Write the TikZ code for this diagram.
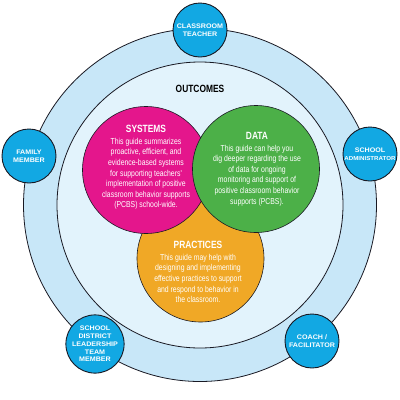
\documentclass[tikz,border=0pt]{standalone}
\usepackage{fontspec}
\setmainfont{Liberation Sans}
\newfontfamily\condfont{Liberation Sans}[FakeStretch=0.8]
\newfontfamily\rolefont{Liberation Sans}[FakeStretch=1.08]
\usepackage{tikz}
\usetikzlibrary{positioning}
\definecolor{ringblue}{RGB}{200,231,248}
\definecolor{coreblue}{RGB}{226,243,252}
\definecolor{rolecyan}{RGB}{18,168,227}
\definecolor{sysmagenta}{RGB}{228,22,140}
\definecolor{datagreen}{RGB}{76,176,72}
\definecolor{pracorange}{RGB}{240,168,38}
\definecolor{edgeink}{RGB}{25,25,35}
\tikzset{
  ringline/.style={draw=edgeink,line width=0.8pt},
  bigdisc/.style={circle,draw=edgeink,line width=0.6pt,minimum size=127pt,inner sep=0pt},
  rolebubble/.style={circle,draw=edgeink,line width=0.9pt,fill=rolecyan,minimum size=54pt,
    inner sep=0pt,align=center,text=white,font=\rolefont\bfseries\fontsize{6.6}{7.8}\selectfont},
  bodytext/.style={align=center,text=white,font=\condfont\fontsize{8.6}{10.6}\selectfont},
  headfont/.style={font=\condfont\bfseries\fontsize{10.5}{12}\selectfont},
}
\newcommand{\role}[3]{\node[rolebubble] (#1) at (#2) {#3};}
\newcommand{\ttl}[1]{{\bfseries\fontsize{10.5}{12}\selectfont #1}\\[1pt]}

\begin{document}
\begin{tikzpicture}[x=1pt,y=-1pt]
    \useasboundingbox[fill=white] (0,0) rectangle (400,400);
    % rings
    \node[circle,ringline,fill=ringblue,minimum size=353pt,inner sep=0pt] (outer) at (200,205) {};
    \node[circle,ringline,fill=coreblue,minimum size=286pt,inner sep=0pt] (core) at (200,205) {};
    \node[headfont] (outcomes) at (200,89) {OUTCOMES};
    % outcome circles
    \node[bigdisc,fill=pracorange] (practices) at (200.5,258.5) {};
    \node[bigdisc,fill=sysmagenta] (systems) at (146,170) {};
    \node[bigdisc,fill=datagreen] (data) at (256,169) {};
    \node[bodytext] (systemstext) at (146,167.5) {\ttl{SYSTEMS}This guide summarizes\\
      proactive, efficient, and\\evidence-based systems\\for supporting teachers'\\
      implementation of positive\\classroom behavior supports\\(PCBS) school-wide.};
    \node[bodytext] (datatext) at (257,169) {\ttl{DATA}This guide can help you\\
      dig deeper regarding the use\\of data for ongoing\\monitoring and support of\\
      positive classroom behavior\\supports (PCBS).};
    \node[bodytext] (practicestext) at (198,272) {\ttl{PRACTICES}This guide may help with\\
      designing and implementing\\effective practices to support\\
      and respond to behavior in\\the classroom.};
    % roles on the outer ring
    \role{teacher}{200,30}{CLASSROOM\\TEACHER}
    \role{admin}{370,154}{SCHOOL\\{\fontsize{5.7}{7.8}\selectfont ADMINISTRATOR}}
    \role{family}{29,156}{FAMILY\\MEMBER}
    \role{district}{95,344}{SCHOOL\\DISTRICT\\LEADERSHIP\\TEAM\\MEMBER}
    \role{coach}{312,341}{COACH /\\FACILITATOR}
  \end{tikzpicture}
\end{document}
